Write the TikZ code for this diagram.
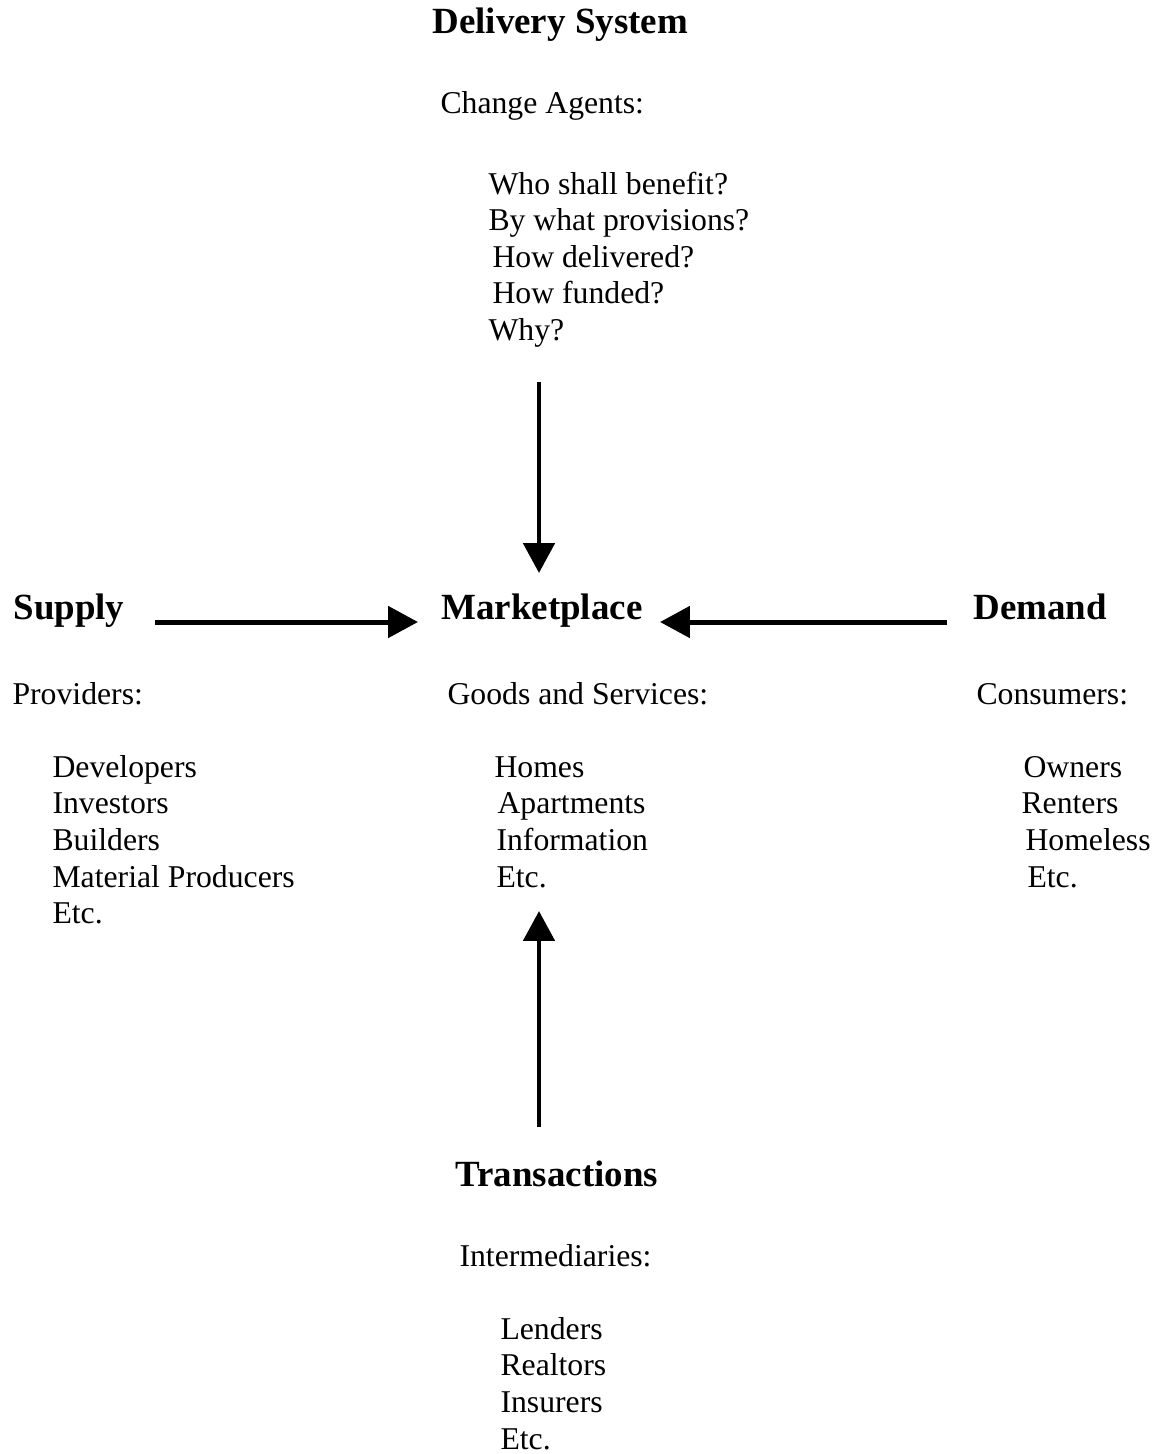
\documentclass[tikz,border=0pt]{standalone}
\usepackage{fontspec}
\setmainfont{Liberation Serif}
\usetikzlibrary{arrows.meta}
\tikzset{
  head/.style={font=\fontsize{14.2}{16}\selectfont\bfseries, anchor=base west, inner sep=0pt},
  txt/.style={font=\fontsize{12.2}{14}\selectfont, anchor=base west, inner sep=0pt},
  arr/.style={line width=1.92pt, -{Triangle[length=11.5pt,width=11.9pt]}}
}
\begin{document}
\begin{tikzpicture}[x=0.3846pt, y=-0.3846pt]
\useasboundingbox (0,0) rectangle (1158,1454);
% top
\node[head] (deliv) at (432,33) {Delivery System};
\node[txt] (chag) at (440,113) {Change Agents:};
\node[txt] (q1) at (488,194) {Who shall benefit?};
\node[txt] (q2) at (488,230.6) {By what provisions?};
\node[txt] (q3) at (492,267.2) {How delivered?};
\node[txt] (q4) at (492,303.8) {How funded?};
\node[txt] (q5) at (488,340.4) {Why?};
% middle headings
\node[head] (supply) at (13,619) {Supply};
\node[head] (market) at (441,619) {Marketplace};
\node[head] (demand) at (973,619) {Demand};
% left column
\node[txt] (prov) at (12,704) {Providers:};
\node[txt] (s1) at (52,777) {Developers};
\node[txt] (s2) at (52,813.7) {Investors};
\node[txt] (s3) at (52,850.4) {Builders};
\node[txt] (s4) at (52,887.1) {Material Producers};
\node[txt] (s5) at (52,923.8) {Etc.};
% middle column
\node[txt] (goods) at (447,704) {Goods and Services:};
\node[txt] (g1) at (494,777) {Homes};
\node[txt] (g2) at (497,813.7) {Apartments};
\node[txt] (g3) at (496,850.4) {Information};
\node[txt] (g4) at (496,887.1) {Etc.};
% right column
\node[txt] (cons) at (976,704) {Consumers:};
\node[txt] (c1) at (1023,777) {Owners};
\node[txt] (c2) at (1021,813.7) {Renters};
\node[txt] (c3) at (1025,850.4) {Homeless};
\node[txt] (c4) at (1027,887.1) {Etc.};
% bottom
\node[head] (trans) at (455,1186) {Transactions};
\node[txt] (inter) at (459,1266) {Intermediaries:};
\node[txt] (t1) at (500,1339) {Lenders};
\node[txt] (t2) at (500,1375.7) {Realtors};
\node[txt] (t3) at (500,1412.4) {Insurers};
\node[txt] (t4) at (500,1449) {Etc.};
% arrow ends
\coordinate (dtop) at (539,382);
\coordinate (dbot) at (539,573);
\coordinate (sL) at (155,622);
\coordinate (sR) at (418,622);
\coordinate (dR) at (947,622);
\coordinate (dL) at (660,622);
\coordinate (ubot) at (539,1127);
\coordinate (utop) at (539,911);
\draw[arr] (dtop) -- (dbot);
\draw[arr] (sL) -- (sR);
\draw[arr] (dR) -- (dL);
\draw[arr] (ubot) -- (utop);
\end{tikzpicture}
\end{document}
